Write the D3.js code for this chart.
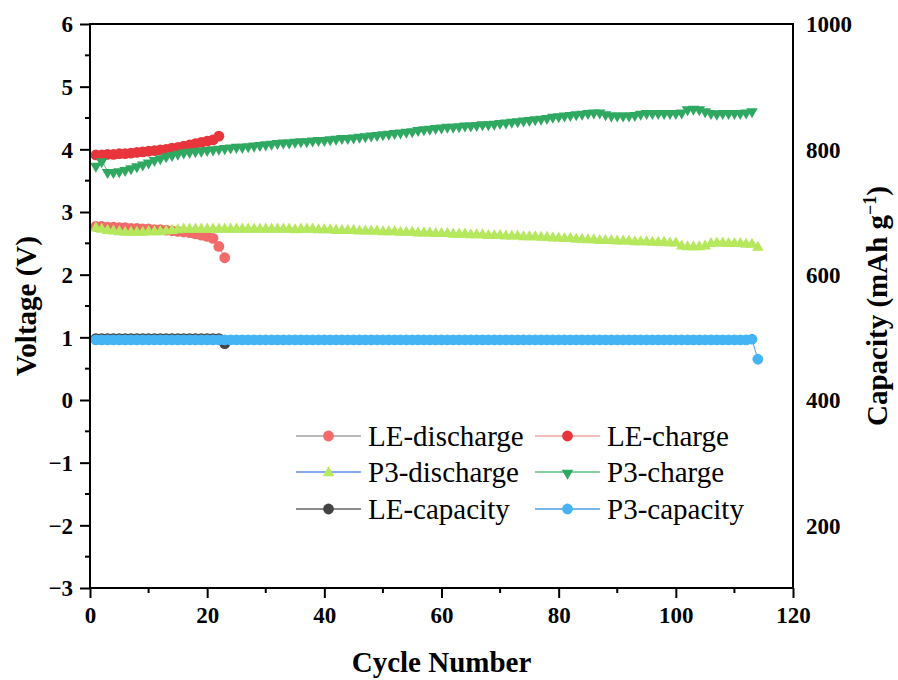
<!DOCTYPE html>
<html>
<head>
<meta charset="utf-8">
<script src="https://cdn.jsdelivr.net/npm/d3@7"></script>
<style>
  body { margin: 0; background: #fff; }
  svg { display: block; font-family: "Times New Roman", "Liberation Serif", serif; }
  .tick-label { font-family: "Times New Roman", "Liberation Serif", serif; font-size: 23px; font-weight: bold; fill: #000; }
  .axis-title { font-size: 29px; font-weight: bold; fill: #000; }
  .legend-label { font-size: 29px; fill: #000; }
</style>
</head>
<body>
<svg id="chart" width="898" height="680"></svg>
<script>
// --- data
const leDischarge = [
  2.77, 2.77, 2.76, 2.76, 2.75, 2.75, 2.74, 2.74, 2.73, 2.73,
  2.72, 2.72, 2.71, 2.70, 2.69, 2.68, 2.67, 2.65, 2.63, 2.61,
  2.58, 2.45, 2.27
];

const leCharge = [
  3.91, 3.91, 3.92, 3.92, 3.93, 3.93, 3.94, 3.95, 3.96, 3.97,
  3.98, 3.99, 4.00, 4.02, 4.03, 4.05, 4.07, 4.09, 4.11, 4.13,
  4.15, 4.21
];

const p3Discharge = [
  2.76, 2.74, 2.72, 2.71, 2.70, 2.69, 2.69, 2.69, 2.69, 2.70,
  2.70, 2.70, 2.71, 2.72, 2.73, 2.74, 2.74, 2.74, 2.74, 2.74,
  2.74, 2.74, 2.74, 2.74, 2.74, 2.74, 2.74, 2.74, 2.74, 2.74,
  2.74, 2.74, 2.74, 2.74, 2.73, 2.74, 2.74, 2.74, 2.73, 2.73,
  2.73, 2.72, 2.72, 2.72, 2.72, 2.71, 2.71, 2.71, 2.71, 2.70,
  2.70, 2.70, 2.69, 2.69, 2.69, 2.68, 2.68, 2.68, 2.67, 2.67,
  2.67, 2.66, 2.66, 2.66, 2.65, 2.65, 2.65, 2.64, 2.64, 2.64,
  2.63, 2.63, 2.63, 2.62, 2.62, 2.62, 2.61, 2.61, 2.60, 2.60,
  2.59, 2.59, 2.58, 2.58, 2.57, 2.57, 2.56, 2.56, 2.56, 2.55,
  2.55, 2.55, 2.54, 2.54, 2.54, 2.53, 2.53, 2.53, 2.52, 2.52,
  2.47, 2.46, 2.46, 2.46, 2.47, 2.51, 2.52, 2.52, 2.51, 2.51,
  2.51, 2.50, 2.50, 2.45
];

const p3Charge = [
  3.75, 3.82, 3.65, 3.65, 3.66, 3.68, 3.71, 3.74, 3.77, 3.80,
  3.84, 3.87, 3.90, 3.92, 3.94, 3.96, 3.97, 3.98, 3.99, 4.00,
  4.01, 4.02, 4.03, 4.04, 4.05, 4.05, 4.06, 4.07, 4.08, 4.09,
  4.10, 4.11, 4.12, 4.12, 4.13, 4.14, 4.14, 4.15, 4.16, 4.16,
  4.17, 4.18, 4.19, 4.19, 4.20, 4.21, 4.22, 4.23, 4.24, 4.25,
  4.26, 4.27, 4.28, 4.29, 4.30, 4.32, 4.33, 4.34, 4.35, 4.36,
  4.37, 4.37, 4.38, 4.39, 4.39, 4.40, 4.41, 4.41, 4.42, 4.43,
  4.44, 4.45, 4.46, 4.47, 4.48, 4.49, 4.50, 4.51, 4.53, 4.54,
  4.55, 4.56, 4.57, 4.58, 4.59, 4.60, 4.60, 4.57, 4.55, 4.55,
  4.55, 4.55, 4.56, 4.58, 4.59, 4.59, 4.59, 4.59, 4.59, 4.59,
  4.60, 4.65, 4.66, 4.65, 4.62, 4.59, 4.58, 4.59, 4.59, 4.59,
  4.59, 4.60, 4.62
];

const leCapacity = [
  0.98, 0.98, 0.98, 0.98, 0.98, 0.98, 0.98, 0.98, 0.98, 0.98,
  0.98, 0.98, 0.98, 0.98, 0.98, 0.98, 0.98, 0.98, 0.98, 0.98,
  0.98, 0.98, 0.90
];

const p3Capacity = [
  0.96, 0.96, 0.96, 0.96, 0.96, 0.96, 0.96, 0.96, 0.96, 0.96,
  0.96, 0.96, 0.96, 0.96, 0.96, 0.96, 0.96, 0.96, 0.96, 0.96,
  0.96, 0.96, 0.96, 0.96, 0.96, 0.96, 0.96, 0.96, 0.96, 0.96,
  0.96, 0.96, 0.96, 0.96, 0.96, 0.96, 0.96, 0.96, 0.96, 0.96,
  0.96, 0.96, 0.96, 0.96, 0.96, 0.96, 0.96, 0.96, 0.96, 0.96,
  0.96, 0.96, 0.96, 0.96, 0.96, 0.96, 0.96, 0.96, 0.96, 0.96,
  0.96, 0.96, 0.96, 0.96, 0.96, 0.96, 0.96, 0.96, 0.96, 0.96,
  0.96, 0.96, 0.96, 0.96, 0.96, 0.96, 0.96, 0.96, 0.96, 0.96,
  0.96, 0.96, 0.96, 0.96, 0.96, 0.96, 0.96, 0.96, 0.96, 0.96,
  0.96, 0.96, 0.96, 0.96, 0.96, 0.96, 0.96, 0.96, 0.96, 0.96,
  0.96, 0.96, 0.96, 0.96, 0.96, 0.96, 0.96, 0.96, 0.96, 0.96,
  0.96, 0.96, 0.97, 0.65
];

const xTicks = [0, 20, 40, 60, 80, 100, 120];
const yLeftTicks = [-3, -2, -1, 0, 1, 2, 3, 4, 5, 6];
const yRightTicks = [200, 400, 600, 800, 1000];

// series: name, values, marker, marker colour, line colour
const seriesNames = ['LE-discharge', 'LE-charge', 'P3-discharge', 'P3-charge', 'LE-capacity', 'P3-capacity'];
const seriesValues = [leDischarge, leCharge, p3Discharge, p3Charge, leCapacity, p3Capacity];
const seriesMarkers = ['circle', 'circle', 'up', 'down', 'circle', 'circle'];
const seriesColors = ['#f26a6a', '#e8343b', '#b5e85c', '#2fa862', '#444444', '#45b4f5'];
const seriesLineColors = ['#a0a0a0', '#f2a3a3', '#5b8def', '#5cbf85', '#666666', '#4a9fe6'];

// --- layout
const plot = { left: 90, right: 793, top: 24, bottom: 588 };

const svg = d3.select('#chart');

const x = d3.scaleLinear().domain([0, 120]).range([plot.left, plot.right]);
const yLeft = d3.scaleLinear().domain([-3, 6]).range([plot.bottom, plot.top]);
const yRight = d3.scaleLinear().domain([100, 1000]).range([plot.bottom, plot.top]);

const triangle = d3.symbol().type(d3.symbolTriangle).size(58);

function drawMarker(g, kind, color) {
  if (kind === 'circle') {
    g.append('circle').attr('r', 5.4).attr('fill', color);
  } else {
    g.append('path')
      .attr('d', triangle())
      .attr('fill', color)
      .attr('transform', kind === 'down' ? 'rotate(180) translate(0,-1)' : 'translate(0,1)');
  }
}

// --- series
const dataLayer = svg.append('g').classed('series', true);

seriesValues.forEach((values, idx) => {
  const pts = values.map((v, i) => ({ c: i + 1, v }));
  const g = dataLayer.append('g');

  g.append('path')
    .datum(pts)
    .attr('fill', 'none')
    .attr('stroke', seriesLineColors[idx])
    .attr('stroke-width', 1)
    .attr('d', d3.line().x(d => x(d.c)).y(d => yLeft(d.v)));

  g.selectAll('.pt')
    .data(pts)
    .enter()
    .append('g')
    .attr('class', 'pt')
    .attr('transform', d => `translate(${x(d.c)},${yLeft(d.v)})`)
    .each((d, i, nodes) => drawMarker(d3.select(nodes[i]), seriesMarkers[idx], seriesColors[idx]));
});

// --- axes
const axes = svg.append('g').classed('axes', true);

// left axis
const leftAxis = d3.axisLeft(yLeft)
  .tickValues(yLeftTicks)
  .tickSize(10)
  .tickPadding(7)
  .tickFormat(d => d < 0 ? '\u2212' + Math.abs(d) : d);
const gLeft = axes.append('g')
  .attr('transform', `translate(${plot.left},0)`)
  .call(leftAxis);

// minor ticks on the left
axes.append('g').selectAll('line')
  .data(d3.range(-2.5, 6, 1))
  .enter()
  .append('line')
  .attr('x1', plot.left - 5).attr('x2', plot.left)
  .attr('y1', d => yLeft(d)).attr('y2', d => yLeft(d))
  .attr('stroke', '#000').attr('stroke-width', 2);

// bottom axis
const bottomAxis = d3.axisBottom(x)
  .tickValues(xTicks)
  .tickSize(10)
  .tickPadding(7);
const gBottom = axes.append('g')
  .attr('transform', `translate(0,${plot.bottom})`)
  .call(bottomAxis);

axes.append('g').selectAll('line')
  .data(d3.range(10, 120, 20))
  .enter()
  .append('line')
  .attr('x1', d => x(d)).attr('x2', d => x(d))
  .attr('y1', plot.bottom).attr('y2', plot.bottom + 5)
  .attr('stroke', '#000').attr('stroke-width', 2);

// right axis (labels only, no ticks)
const rightAxis = d3.axisRight(yRight)
  .tickValues(yRightTicks)
  .tickSize(0)
  .tickFormat(d3.format('d'))
  .tickPadding(13);
const gRight = axes.append('g')
  .attr('transform', `translate(${plot.right},0)`)
  .call(rightAxis);

[gLeft, gBottom, gRight].forEach(g => {
  g.attr('font-family', null).attr('font-size', null);
  g.select('.domain').remove();
  g.selectAll('.tick line').attr('stroke', '#000').attr('stroke-width', 2);
  g.selectAll('.tick text').attr('class', 'tick-label');
});
gLeft.selectAll('.tick text').attr('dy', '0.34em');
gRight.selectAll('.tick text').attr('dy', '0.34em');
gBottom.selectAll('.tick text').attr('dy', '0.78em');

// frame
axes.append('rect')
  .attr('x', plot.left)
  .attr('y', plot.top)
  .attr('width', plot.right - plot.left)
  .attr('height', plot.bottom - plot.top)
  .attr('fill', 'none')
  .attr('stroke', '#000')
  .attr('stroke-width', 2);

// --- titles
svg.append('text')
  .attr('class', 'axis-title')
  .attr('x', (plot.left + plot.right) / 2)
  .attr('y', 672)
  .attr('text-anchor', 'middle')
  .text('Cycle Number');

svg.append('text')
  .attr('class', 'axis-title')
  .attr('transform', `translate(36,${(plot.top + plot.bottom) / 2}) rotate(-90)`)
  .attr('text-anchor', 'middle')
  .text('Voltage (V)');

const capTitle = svg.append('text')
  .attr('class', 'axis-title')
  .attr('transform', `translate(887,${(plot.top + plot.bottom) / 2}) rotate(-90)`)
  .attr('text-anchor', 'middle');
capTitle.append('tspan').text('Capacity (mAh g');
capTitle.append('tspan').attr('dy', -11).attr('font-size', 18).text('\u22121');
capTitle.append('tspan').attr('dy', 11).text(')');

// --- legend
const legend = svg.append('g').classed('legend', true);
const legendRows = [436, 472, 509];
const legendCols = [296, 535];

seriesNames.forEach((name, idx) => {
  const col = legendCols[idx % 2];
  const row = legendRows[Math.floor(idx / 2)];
  const g = legend.append('g').attr('transform', `translate(${col},${row})`);

  g.append('line')
    .attr('x1', 0).attr('x2', 65)
    .attr('y1', 0).attr('y2', 0)
    .attr('stroke', seriesLineColors[idx])
    .attr('stroke-width', 1.5);

  const m = g.append('g').attr('transform', 'translate(32.5,0)');
  drawMarker(m, seriesMarkers[idx], seriesColors[idx]);

  g.append('text')
    .attr('class', 'legend-label')
    .attr('x', 72)
    .attr('y', 10)
    .text(name);
});
</script>
</body>
</html>
